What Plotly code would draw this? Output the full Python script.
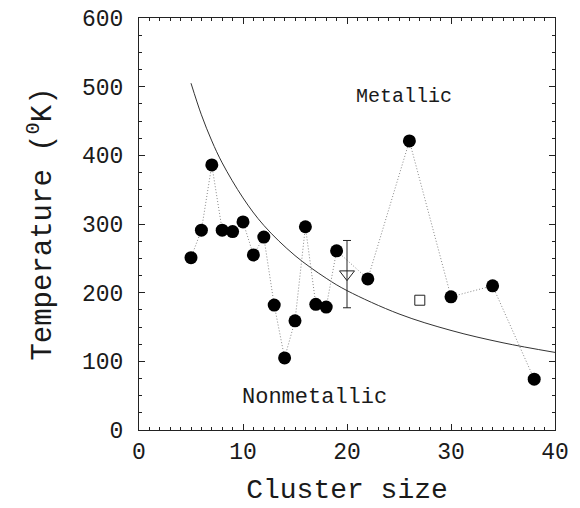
import plotly.graph_objects as go

# Measured cluster data (filled circles, connected by dotted line)
cluster_size = [5, 6, 7, 8, 9, 10, 11, 12, 13, 14, 15, 16, 17, 18, 19, 22, 26, 30, 34, 38]
temperature = [251, 291, 386, 291, 289, 303, 255, 281, 182, 105, 159, 296, 183, 179, 261, 220, 421, 194, 210, 74]

# Open triangle with error bar
tri_x = [20]
tri_y = [227]
tri_err = [49]

# Open square
sq_x = [27]
sq_y = [189]

# Boundary curve
curve_x = [5, 6, 7, 8, 10, 12, 15, 18, 20, 25, 30, 35, 40]
curve_y = [505, 459, 421, 389, 338, 298, 254, 221, 203, 169, 145, 127, 113]

x_ticks = [0, 10, 20, 30, 40]
y_ticks = [0, 100, 200, 300, 400, 500, 600]

FONT = "Liberation Mono"
INK = "#1a1a1a"

fig = go.Figure()
fig.add_trace(go.Scatter(x=curve_x, y=curve_y, mode="lines",
                         line=dict(color="#333", width=1, shape="spline"),
                         showlegend=False))
fig.add_trace(go.Scatter(x=cluster_size, y=temperature, mode="lines+markers",
                         line=dict(color="#888", width=1, dash="1px,2px"),
                         marker=dict(color="black", size=13),
                         showlegend=False))
fig.add_trace(go.Scatter(x=tri_x, y=tri_y, mode="markers",
                         marker=dict(symbol="triangle-down-open", size=13, color="#222", line=dict(width=1)),
                         error_y=dict(type="data", array=tri_err, color="#222", thickness=1, width=4),
                         showlegend=False))
fig.add_trace(go.Scatter(x=sq_x, y=sq_y, mode="markers",
                         marker=dict(symbol="square-open", size=10, color="#222", line=dict(width=1)),
                         showlegend=False))

fig.add_annotation(x=25.45, y=486, text="Metallic", showarrow=False,
                   font=dict(family=FONT, size=20, color=INK))
fig.add_annotation(x=16.9, y=47, text="Nonmetallic", showarrow=False,
                   font=dict(family=FONT, size=22, color=INK))

axis_common = dict(showgrid=False, zeroline=False, showline=True, linecolor="#222",
                   linewidth=1, mirror="ticks", ticks="inside", tickcolor="#222",
                   ticklen=6, automargin=False, ticklabeloverflow="allow",
                   tickfont=dict(family=FONT, size=23, color=INK))

fig.update_xaxes(range=[0, 40], tickvals=x_ticks, **axis_common, ticklabelstandoff=0,
                 minor=dict(dtick=1, ticks="inside", ticklen=3, tickcolor="#222"),
                 title=dict(text="Cluster size", font=dict(family=FONT, size=28, color=INK), standoff=13))
fig.update_yaxes(range=[0, 600], tickvals=y_ticks, **axis_common, ticklabelstandoff=10,
                 minor=dict(dtick=25, ticks="inside", ticklen=3, tickcolor="#222"),
                 title=dict(text="Temperature (<sup>0</sup>K)", font=dict(family=FONT, size=29, color=INK), standoff=21))

# page body adds an 8px offset; margins compensate so the plot area lands where the reference has it
fig.update_layout(width=580, height=508, plot_bgcolor="white", paper_bgcolor="white",
                  margin=dict(l=131, r=33, t=10, b=86))

fig.write_html("out.html")
